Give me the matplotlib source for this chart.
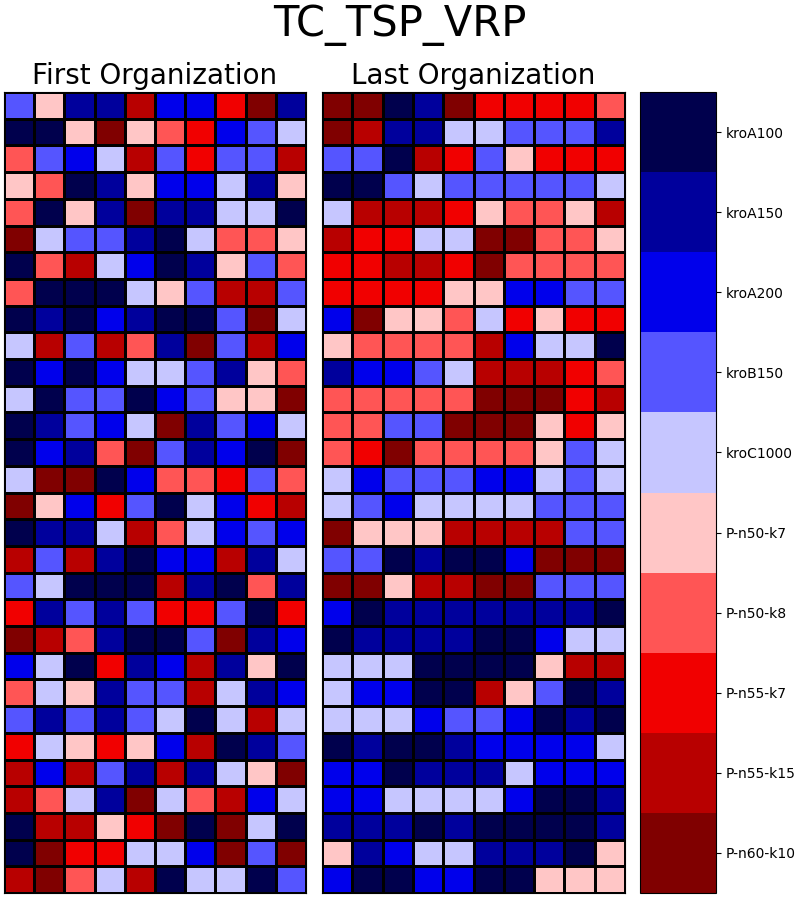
import numpy as np
import matplotlib
matplotlib.use("Agg")
import matplotlib.pyplot as plt
from matplotlib.colors import BoundaryNorm

instances = ["kroA100", "kroA150", "kroA200", "kroB150", "kroC1000",
             "P-n50-k7", "P-n50-k8", "P-n55-k7", "P-n55-k15", "P-n60-k10"]

# instance index per cell, 30 rows x 10 columns
first_org = [
    [3, 5, 1, 1, 8, 2, 2, 7, 9, 1],
    [0, 0, 5, 9, 5, 6, 7, 2, 3, 4],
    [6, 3, 2, 4, 8, 3, 7, 3, 3, 8],
    [5, 6, 0, 1, 5, 2, 2, 4, 1, 5],
    [6, 0, 5, 1, 9, 1, 1, 4, 4, 0],
    [9, 4, 3, 3, 1, 0, 4, 6, 6, 5],
    [0, 6, 8, 4, 2, 0, 1, 5, 3, 6],
    [6, 0, 0, 0, 4, 5, 3, 8, 8, 3],
    [0, 1, 0, 2, 1, 0, 0, 3, 9, 4],
    [4, 8, 3, 8, 6, 1, 9, 3, 8, 2],
    [0, 2, 0, 2, 4, 4, 3, 1, 5, 6],
    [4, 0, 3, 3, 0, 2, 3, 5, 5, 9],
    [0, 1, 3, 2, 4, 9, 1, 3, 2, 4],
    [0, 2, 1, 6, 9, 3, 1, 2, 0, 9],
    [4, 9, 9, 0, 2, 6, 6, 7, 3, 6],
    [9, 5, 2, 7, 3, 0, 4, 2, 7, 8],
    [0, 1, 1, 4, 8, 6, 4, 2, 3, 2],
    [8, 3, 8, 1, 0, 2, 2, 8, 1, 4],
    [3, 4, 0, 0, 0, 8, 1, 0, 6, 1],
    [7, 1, 3, 1, 3, 7, 7, 3, 0, 7],
    [9, 8, 6, 1, 0, 0, 3, 9, 1, 2],
    [2, 4, 0, 7, 1, 2, 8, 1, 5, 0],
    [6, 4, 5, 1, 3, 3, 8, 4, 1, 2],
    [3, 1, 3, 1, 3, 4, 0, 4, 8, 4],
    [7, 4, 5, 7, 5, 2, 8, 0, 1, 3],
    [8, 2, 8, 3, 1, 8, 1, 4, 5, 9],
    [8, 6, 4, 1, 9, 4, 6, 8, 2, 4],
    [0, 8, 8, 5, 7, 9, 0, 9, 4, 0],
    [0, 9, 7, 7, 4, 4, 2, 9, 3, 9],
    [8, 9, 6, 4, 8, 0, 4, 4, 0, 3],
]

last_org = [
    [9, 9, 0, 1, 9, 7, 7, 7, 7, 6],
    [9, 8, 1, 1, 4, 4, 3, 3, 3, 1],
    [3, 3, 0, 8, 7, 3, 5, 7, 7, 7],
    [0, 0, 3, 4, 3, 3, 3, 3, 3, 4],
    [4, 8, 8, 8, 7, 5, 6, 6, 5, 8],
    [8, 7, 7, 4, 4, 9, 9, 6, 6, 5],
    [7, 7, 8, 8, 7, 9, 6, 6, 6, 6],
    [7, 7, 7, 7, 5, 5, 2, 2, 3, 3],
    [2, 9, 5, 5, 6, 4, 7, 5, 7, 7],
    [5, 6, 6, 6, 6, 8, 2, 4, 4, 0],
    [1, 2, 2, 3, 4, 8, 8, 8, 7, 6],
    [6, 6, 6, 6, 6, 9, 9, 9, 7, 8],
    [6, 6, 3, 3, 9, 9, 9, 5, 7, 5],
    [6, 7, 9, 6, 6, 6, 6, 5, 3, 4],
    [4, 2, 3, 3, 3, 2, 2, 4, 3, 4],
    [4, 3, 2, 4, 4, 4, 4, 3, 3, 3],
    [9, 5, 5, 5, 8, 8, 8, 8, 3, 3],
    [3, 3, 0, 1, 0, 0, 2, 9, 9, 9],
    [9, 9, 5, 8, 8, 9, 9, 3, 3, 3],
    [2, 0, 1, 1, 1, 1, 1, 1, 1, 0],
    [0, 1, 1, 1, 1, 0, 0, 2, 4, 4],
    [4, 4, 4, 0, 0, 0, 0, 5, 8, 8],
    [4, 2, 2, 0, 0, 8, 5, 3, 0, 1],
    [4, 4, 4, 2, 3, 3, 2, 0, 1, 0],
    [0, 1, 0, 0, 1, 2, 2, 2, 2, 4],
    [2, 2, 0, 1, 1, 1, 4, 2, 2, 2],
    [2, 2, 4, 4, 4, 4, 2, 0, 0, 1],
    [1, 1, 1, 0, 1, 0, 0, 0, 0, 1],
    [5, 1, 2, 4, 4, 1, 1, 1, 0, 5],
    [2, 0, 0, 2, 2, 0, 0, 5, 5, 5],
]

n = len(instances)
cmap = plt.get_cmap("seismic", n)
norm = BoundaryNorm(np.arange(-0.5, n + 0.5, 1), n)

W, H = 800, 898
fig = plt.figure(figsize=(W / 100, H / 100), dpi=100)

def px_axes(x0, x1, y0, y1):
    return fig.add_axes([x0 / W, 1 - y1 / H, (x1 - x0) / W, (y1 - y0) / H])

ax1 = px_axes(4, 306, 92, 893)
ax2 = px_axes(322, 625, 92, 893)
cax = px_axes(640, 716, 92, 893)

for ax, data, title in [(ax1, first_org, "First Organization"),
                        (ax2, last_org, "Last Organization")]:
    arr = np.array(data)
    mesh = ax.pcolormesh(arr, cmap=cmap, norm=norm, edgecolors="black", linewidth=1)
    ax.set_xlim(0, arr.shape[1])
    ax.set_ylim(arr.shape[0], 0)
    ax.set_xticks([])
    ax.set_yticks([])
    ax.set_title(title, fontsize=20)

cb = fig.colorbar(mesh, cax=cax, ticks=np.arange(n))
cb.set_ticklabels(instances)
cb.ax.tick_params(labelsize=10)
cb.ax.minorticks_off()
cax.invert_yaxis()

fig.suptitle("TC_TSP_VRP", fontsize=30, y=0.995)

fig.savefig("out.png", dpi=100)
